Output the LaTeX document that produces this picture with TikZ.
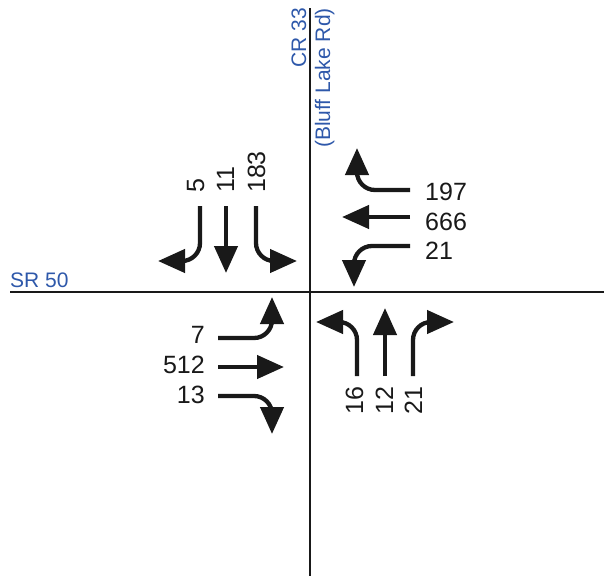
\documentclass[tikz,border=0pt]{standalone}
\usepackage{fontspec}
\setmainfont{Liberation Sans}
\usetikzlibrary{arrows.meta}
\definecolor{roadblue}{RGB}{46,88,170}
\tikzset{
  road/.style={line width=2.8pt, draw=black!90},
  mv/.style={line width=4.3pt, rounded corners=18pt, draw=black!90, -{Triangle[length=27pt,width=23pt]}},
  num/.style={inner sep=0pt, text=black!90, font=\fontsize{25}{25}\selectfont},
  rname/.style={inner sep=0pt, text=roadblue, font=\fontsize{21}{21}\selectfont}
}
\begin{document}
\begin{tikzpicture}[x=1pt,y=-1pt]
\useasboundingbox (0,0) rectangle (604,576);
% roads
\coordinate (vt) at (310,8);
\coordinate (vb) at (310,576);
\coordinate (hl) at (10,292);
\coordinate (hr) at (604,292);
\draw[road] (vt) -- (vb);
\draw[road] (hl) -- (hr);
% road names
\node[rname, anchor=base west] (sr) at (10,287) {SR 50};
\node[rname, rotate=90, anchor=base east] (cr) at (306,8) {CR 33};
\node[rname, rotate=90, anchor=base east] (bl) at (330,8) {(Bluff Lake Rd)};
% southbound
\node[num, rotate=90, anchor=base west] (s5) at (204,193) {5};
\node[num, rotate=90, anchor=base west] (s11) at (234,193) {11};
\node[num, rotate=90, anchor=base west] (s183) at (265,193) {183};
\coordinate (sla) at (200,206); \coordinate (slb) at (158,261);
\coordinate (ssa) at (226,206); \coordinate (ssb) at (226,273);
\coordinate (sra) at (256,206); \coordinate (srb) at (297,261);
\draw[mv] (sla) |- (slb);
\draw[mv] (ssa) -- (ssb);
\draw[mv] (sra) |- (srb);
% westbound
\node[num, anchor=base west] (w197) at (425,200) {197};
\node[num, anchor=base west] (w666) at (425,230) {666};
\node[num, anchor=base west] (w21) at (425,259) {21};
\coordinate (wra) at (410,190); \coordinate (wrb) at (357,148);
\coordinate (wsa) at (410,217); \coordinate (wsb) at (342,217);
\coordinate (wla) at (410,246); \coordinate (wlb) at (354,287);
\draw[mv] (wra) -| (wrb);
\draw[mv] (wsa) -- (wsb);
\draw[mv] (wla) -| (wlb);
% eastbound
\node[num, anchor=base east] (e7) at (205,343) {7};
\node[num, anchor=base east] (e512) at (205,373) {512};
\node[num, anchor=base east] (e13) at (205,403) {13};
\coordinate (ela) at (218,338); \coordinate (elb) at (272,297);
\coordinate (esa) at (218,367); \coordinate (esb) at (284,367);
\coordinate (era) at (218,396); \coordinate (erb) at (272,434);
\draw[mv] (ela) -| (elb);
\draw[mv] (esa) -- (esb);
\draw[mv] (era) -| (erb);
% northbound
\node[num, rotate=90, anchor=base east] (n16) at (363,386) {16};
\node[num, rotate=90, anchor=base east] (n12) at (393,386) {12};
\node[num, rotate=90, anchor=base east] (n21) at (422,386) {21};
\coordinate (nla) at (357,376); \coordinate (nlb) at (316,322);
\coordinate (nsa) at (385,376); \coordinate (nsb) at (385,308);
\coordinate (nra) at (413,376); \coordinate (nrb) at (454,322);
\draw[mv] (nla) |- (nlb);
\draw[mv] (nsa) -- (nsb);
\draw[mv] (nra) |- (nrb);
\end{tikzpicture}
\end{document}
